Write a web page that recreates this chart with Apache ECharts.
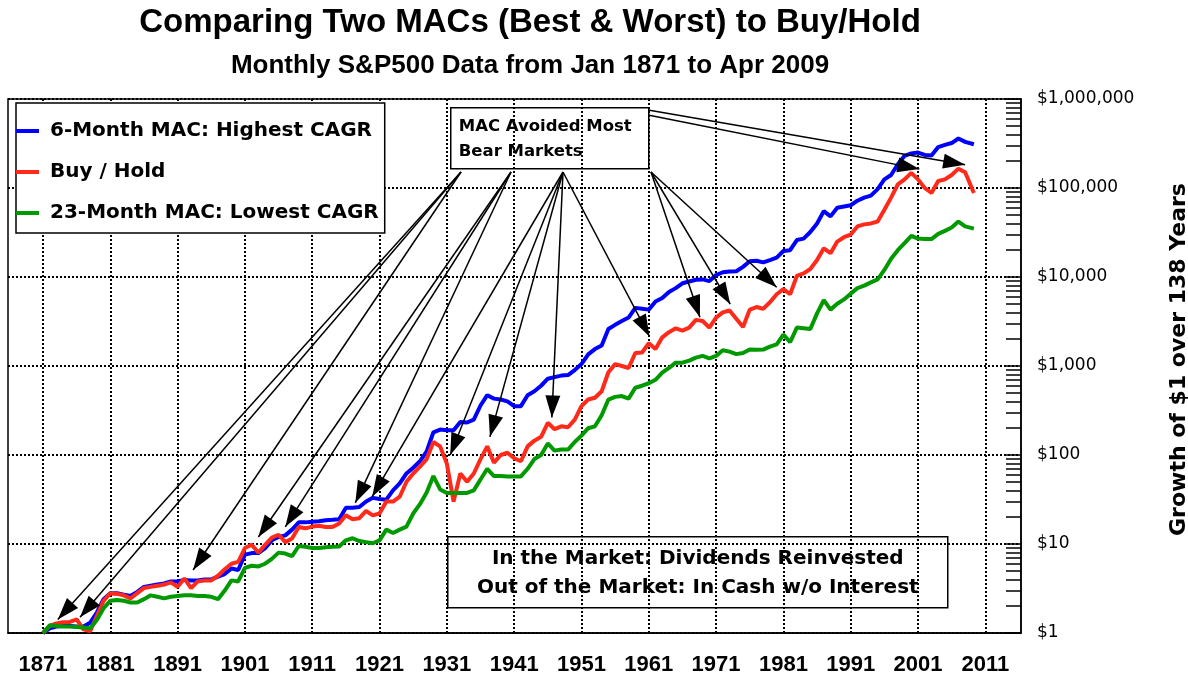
<!DOCTYPE html>
<html>
<head>
<meta charset="utf-8">
<title>Comparing Two MACs to Buy/Hold</title>
<script src="https://cdn.jsdelivr.net/npm/echarts@6/dist/echarts.min.js"></script>
<style>
  html, body { margin: 0; padding: 0; background: #fff; }
  #main { width: 1188px; height: 675px; }
</style>
</head>
<body>
<div id="main"></div>
<script>
// yearly readings, Jan 1871 .. Apr 2009
const years = [];
for (let y = 1871; y <= 2008; y++) years.push(y);
years.push(2009.3);

const mac6 = [
  1.0, 1.13, 1.18, 1.2, 1.2, 1.18, 1.18, 1.3, 1.7, 2.4,
  2.8, 2.8, 2.7, 2.6, 2.9, 3.3, 3.4, 3.5, 3.6, 3.8,
  3.8, 3.95, 3.9, 3.9, 4.0, 4.0, 4.3, 4.6, 5.3, 5.1,
  7.6, 7.9, 7.9, 9.0, 11.0, 12.0, 12.5, 14.5, 17.5, 17.5,
  17.8, 18.0, 18.5, 18.7, 19.0, 25.6, 25.6, 26.0, 30, 33,
  32, 31.5, 40, 48, 62, 72, 85, 110, 180, 193,
  190, 190, 235, 232, 250, 360, 470, 430, 420, 400,
  354, 354, 470, 520, 600, 720, 750, 780, 790, 900,
  1050, 1350, 1550, 1700, 2600, 2900, 3200, 3500, 4500, 4400,
  4300, 5300, 5800, 6800, 7500, 8500, 8900, 9300, 9400, 9000,
  10500, 11300, 11500, 11600, 13000, 15000, 15200, 14600, 15500, 16500,
  19600, 20000, 26000, 27000, 32000, 40000, 55000, 48000, 60000, 62000,
  64000, 72000, 78000, 82000, 97000, 125000, 140000, 185000, 230000, 245000,
  250000, 235000, 232000, 288000, 305000, 320000, 360000, 330000, 310000
];

const buyHold = [
  1.0, 1.2, 1.28, 1.32, 1.33, 1.42, 1.1, 1.05, 1.55, 2.3,
  2.8, 2.75, 2.65, 2.45, 2.8, 3.2, 3.3, 3.4, 3.5, 3.7,
  3.3, 4.1, 3.2, 3.8, 3.9, 3.9, 4.4, 5.2, 6.0, 6.3,
  9.0, 9.8, 8.0, 9.8, 11.8, 12.7, 10.5, 11.5, 15.5, 15.0,
  15.7, 16.0, 15.5, 15.5, 17.0, 21.0, 19.0, 19.5, 23.5, 21.0,
  22.0, 30, 30, 34, 50, 62, 74, 90, 140, 125,
  80, 30, 62, 50, 62, 90, 125, 82, 100, 106,
  92, 85, 125, 145, 160, 230, 195, 210, 205, 250,
  354, 420, 440, 520, 850, 1050, 1000, 950, 1400, 1420,
  1800, 1550, 2100, 2400, 2650, 2500, 2700, 3300, 3200, 2700,
  3500, 4000, 4200, 3400, 2750, 4300, 4600, 4400, 5200, 6400,
  7300, 6400, 10300, 11000, 12300, 15500, 21000, 18500, 25000, 28000,
  30000, 37000, 39000, 40000, 42000, 57000, 78000, 110000, 125000, 148000,
  125000, 100000, 88000, 120000, 125000, 140000, 165000, 150000, 88000
];

const mac23 = [
  1.0, 1.22, 1.2, 1.18, 1.18, 1.17, 1.15, 1.13, 1.4, 1.9,
  2.3, 2.35, 2.3, 2.2, 2.2, 2.4, 2.65, 2.55, 2.45, 2.55,
  2.6, 2.65, 2.65, 2.6, 2.6, 2.55, 2.4, 3.0, 3.9, 3.8,
  5.4, 5.7, 5.6, 6.0, 6.8, 8.0, 7.8, 7.3, 9.5, 9.3,
  9.0, 9.0, 9.2, 9.3, 9.4, 11.0, 11.6, 10.8, 10.5, 10.2,
  11.0, 14.5, 13.3, 14.5, 15.7, 22, 28, 38, 58, 41,
  37.5, 37.5, 37.5, 37.5, 40, 53, 70, 58, 58, 57.5,
  57.5, 57.5, 70, 90, 100, 135, 112, 115, 115, 140,
  165, 200, 210, 280, 420, 450, 460, 430, 570, 600,
  640, 700, 840, 950, 1090, 1090, 1150, 1240, 1300, 1220,
  1300, 1500, 1450, 1360, 1400, 1530, 1520, 1530, 1650, 1750,
  2250, 1850, 2700, 2650, 2600, 3900, 5500, 4300, 5000, 5600,
  6500, 7500, 8000, 8700, 9400, 12000, 16000, 20000, 24000, 29000,
  27000, 26700, 26700, 30500, 33000, 36000, 42000, 37000, 35000
];

const xTickYears = [1871, 1881, 1891, 1901, 1911, 1921, 1931, 1941, 1951, 1961, 1971, 1981, 1991, 2001, 2011];

// bear-market arrows: tip in (year, $) and the box edge they leave from (px)
const arrowTips = [
  [1873.2, 1.42], [1876.5, 1.5], [1893.3, 5.1],
  [1903.0, 12.0], [1907.0, 15.6], [1917.4, 29],
  [1919.9, 34], [1931.5, 100], [1937.4, 160], [1946.6, 264], [1961.1, 2150],
  [1968.6, 3540], [1973.1, 4950], [1980.0, 7670],
  [2001.2, 163000], [2008.0, 182000]
];
const arrowFrom = [
  [461, 172], [461, 172], [461, 172],
  [511, 172], [511, 172], [511, 172],
  [563, 172], [563, 172], [563, 172], [563, 172], [563, 172],
  [651, 172], [651, 172], [651, 172],
  [648, 115], [648, 110]
];

const names = ['6-Month MAC: Highest CAGR', 'Buy / Hold', '23-Month MAC: Lowest CAGR'];
const colors = ['#0000ff', '#ff2a1a', '#009a00'];

const minorTicks = [];
for (let k = 0; k < 6; k++) {
  for (let m = 1; m < 10; m++) minorTicks.push(m * Math.pow(10, k));
}
minorTicks.push(1000000);

const pair = arr => years.map((y, i) => [y, arr[i]]);
const money = v => '$' + Math.round(v).toLocaleString('en-US');

const chart = echarts.init(document.getElementById('main'));

const dotted = { color: '#000', width: 2, type: [2, 2] };

const option = {
  backgroundColor: '#fff',
  animation: false,
  title: [
    {
      text: 'Comparing Two MACs (Best & Worst) to Buy/Hold',
      left: 530, top: 6, padding: 0, textAlign: 'center',
      textStyle: { fontFamily: 'Liberation Sans, Arial', fontWeight: 'bold', fontSize: 33, color: '#000' }
    },
    {
      text: 'Monthly S&P500 Data from Jan 1871 to Apr 2009',
      left: 530, top: 53, padding: 0, textAlign: 'center',
      textStyle: { fontFamily: 'Liberation Sans, Arial', fontWeight: 'bold', fontSize: 26, color: '#000' }
    }
  ],
  legend: {
    data: names,
    orient: 'vertical',
    left: 16, top: 103,
    padding: [18, 6, 10, 0],
    itemGap: 21,
    itemWidth: 23, itemHeight: 4,
    icon: 'rect',
    backgroundColor: '#fff',
    borderColor: '#000', borderWidth: 1.5,
    selectedMode: false,
    textStyle: { fontFamily: 'DejaVu Sans', fontWeight: 'bold', fontSize: 20, color: '#000', padding: [0, 0, 0, 6] }
  },
  grid: {
    left: 8, right: 167, top: 99, bottom: 42,
    show: true, borderColor: '#000', borderWidth: 1.5,
    containLabel: false, outerBoundsMode: 'none'
  },
  xAxis: {
    type: 'value',
    min: 1865.8, max: 2016.3,
    axisLine: { show: true, lineStyle: { color: '#000', width: 1.5 } },
    axisTick: { show: false, customValues: xTickYears },
    axisLabel: {
      customValues: xTickYears, margin: 21,
      formatter: v => String(Math.round(v)),
      fontFamily: 'Liberation Sans, Arial', fontWeight: 'bold', fontSize: 22, color: '#000'
    },
    splitLine: { show: true, lineStyle: dotted }
  },
  yAxis: [
    {
      type: 'log', logBase: 10, min: 1, max: 1000000, splitNumber: 6,
      position: 'right',
      name: 'Growth of $1 over 138 Years',
      nameLocation: 'middle', nameRotate: 90, nameGap: 147,
      nameTextStyle: { fontFamily: 'DejaVu Sans', fontWeight: 'bold', fontSize: 22, color: '#000', padding: [0, 0, 0, 13] },
      axisLine: { show: true, lineStyle: { color: '#000', width: 1.5 } },
      axisTick: { show: false },
      axisLabel: {
        margin: 16, formatter: money,
        fontFamily: 'DejaVu Sans', fontSize: 17, color: '#000'
      },
      splitLine: { show: true, lineStyle: dotted }
    },
    {
      type: 'log', logBase: 10, min: 1, max: 1000000,
      position: 'right',
      axisLine: { show: false },
      axisTick: { show: true, inside: true, length: 15, customValues: minorTicks, lineStyle: { color: '#000', width: 1.5 } },
      axisLabel: { show: false },
      splitLine: { show: false }
    }
  ],
  series: [
    { data: pair(mac6) },
    { data: pair(buyHold) },
    { data: pair(mac23) }
  ].map((s, i) => ({
    name: names[i],
    type: 'line',
    data: s.data,
    yAxisIndex: 0,
    showSymbol: false,
    symbol: 'none',
    color: colors[i],
    lineStyle: { color: colors[i], width: 4 },
    emphasis: { disabled: true },
    z: 3
  }))
};

option.series[1].markLine = {
  silent: true,
  symbol: ['none', 'triangle'],
  symbolSize: [15, 22],
  symbolOffset: [[0, 0], [0, 11]],
  label: { show: false },
  emphasis: { disabled: true },
  lineStyle: { color: '#000', width: 1.5, type: 'solid' },
  data: arrowTips.map((tip, i) => [
    { x: arrowFrom[i][0], y: arrowFrom[i][1] },
    { coord: tip }
  ])
};

option.graphic = [
  {
    type: 'group', left: 450, top: 107, z: 100,
    children: [
      { type: 'rect', shape: { x: 0, y: 0, width: 198, height: 61 }, style: { fill: '#fff', stroke: '#000', lineWidth: 1.5 } },
      {
        type: 'text', x: 8, y: 6,
        style: {
          text: 'MAC Avoided Most\nBear Markets',
          fontFamily: 'DejaVu Sans', fontWeight: 'bold', fontSize: 16.5, lineHeight: 25, fill: '#000'
        }
      }
    ]
  },
  {
    type: 'group', left: 447, top: 536, z: 100,
    children: [
      { type: 'rect', shape: { x: 0, y: 0, width: 500, height: 71 }, style: { fill: '#fff', stroke: '#000', lineWidth: 1.5 } },
      {
        type: 'text', x: 250, y: 8,
        style: {
          text: 'In the Market: Dividends Reinvested\nOut of the Market: In Cash w/o Interest',
          align: 'center',
          fontFamily: 'DejaVu Sans', fontWeight: 'bold', fontSize: 20, lineHeight: 29, fill: '#000'
        }
      }
    ]
  }
];

chart.setOption(option);
</script>
</body>
</html>
